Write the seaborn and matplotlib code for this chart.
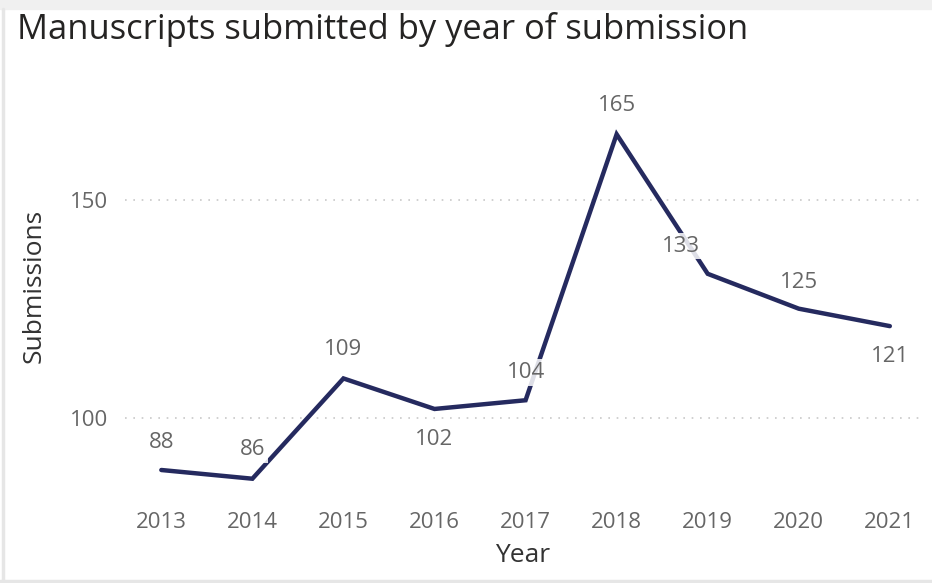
import matplotlib
matplotlib.use("Agg")
import matplotlib.pyplot as plt
import seaborn as sns
import pandas as pd

years = [2013, 2014, 2015, 2016, 2017, 2018, 2019, 2020, 2021]
submissions = [88, 86, 109, 102, 104, 165, 133, 125, 121]
y_ticks = [100, 150]

# label placement (offset in points)
label_offsets = [(0, 20), (0, 21), (0, 21), (0, -22), (0, 20), (0, 21), (-19, 20), (0, 19), (0, -22)]

sns.set_theme(style="white")
plt.rcParams['font.family'] = ['Open Sans', 'DejaVu Sans']

df = pd.DataFrame({"Year": years, "Submissions": submissions})

fig = plt.figure(figsize=(9.32, 5.83), dpi=100)
ax = fig.add_axes([0.134, 0.134, 0.853, 0.688])

line_color = "#252a5f"
sns.lineplot(data=df, x="Year", y="Submissions", ax=ax, color=line_color,
             linewidth=3.2, solid_joinstyle="miter", zorder=2)

ax.set_xlim(2013 - 0.40, 2021 + 0.33)
ax.set_ylim(80, 172)
ax.set_yticks(y_ticks)
ax.set_xticks(years)
ax.set_xticklabels([str(y) for y in years])
for y in y_ticks:
    ax.axhline(y, color="#c8c8c8", linestyle=(0, (1, 4)), linewidth=1.2, zorder=1)

for s in ax.spines.values():
    s.set_visible(False)
ax.tick_params(axis="both", length=0, labelsize=16, colors="#666666")
ax.tick_params(axis="x", pad=5)
ax.tick_params(axis="y", pad=12)

ax.set_xlabel("Year", fontsize=19, color="#333333", labelpad=7)
ax.set_ylabel("Submissions", fontsize=19, color="#333333")
ax.yaxis.set_label_coords(-0.098, 0.545)

for x, y, off in zip(years, submissions, label_offsets):
    ax.annotate(str(y), (x, y), xytext=off, textcoords="offset points",
                ha="center", va="center", fontsize=16, color="#666666",
                bbox=dict(boxstyle="square,pad=0.12", fc="white", ec="none", alpha=0.85),
                zorder=3, annotation_clip=False)

fig.text(0.018, 0.950, "Manuscripts submitted by year of submission",
         fontsize=24.8, color="#252423", ha="left", va="center")

# light frame at left and bottom edges, top band
fig.add_artist(plt.Line2D([0.003, 0.003], [0, 0.985], color="#e6e6e6", linewidth=2.5, transform=fig.transFigure))
fig.add_artist(plt.Line2D([0, 1], [0.003, 0.003], color="#e6e6e6", linewidth=2.5, transform=fig.transFigure))
fig.add_artist(plt.Rectangle((0, 0.985), 1, 0.015, color="#f0f0f0", transform=fig.transFigure, zorder=0))

fig.savefig("out.png", dpi=100, facecolor="white")
